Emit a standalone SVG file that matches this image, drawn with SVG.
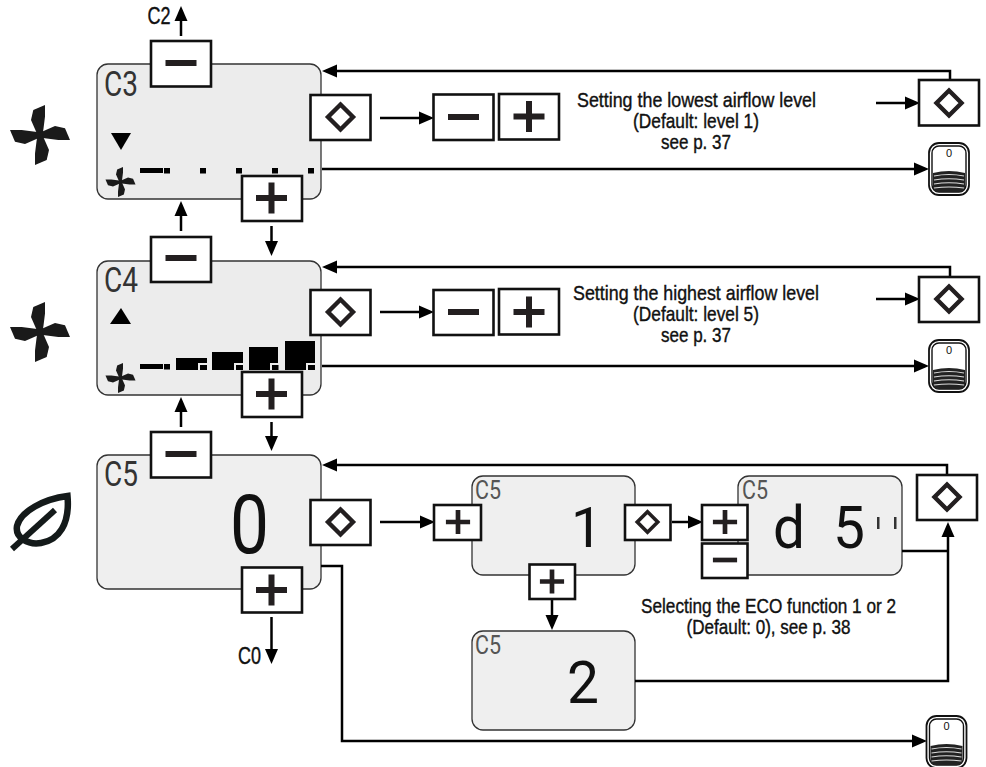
<svg xmlns="http://www.w3.org/2000/svg" xmlns:xlink="http://www.w3.org/1999/xlink" width="986" height="767" viewBox="0 0 986 767">
<style>
.lcd{fill:#ececec;stroke:#333;stroke-width:1.3}
.lcd2{fill:#efefef;stroke:#333;stroke-width:1.3}
.btn{fill:#fff;stroke:#111;stroke-width:2.6}
.wire{fill:none;stroke:#000;stroke-width:2.5;marker-end:url(#arr)}
.wire0{fill:none;stroke:#000;stroke-width:2.5}
.cap{font-family:"Liberation Sans",Arial,sans-serif;font-size:21px;fill:#111;stroke:#111;stroke-width:.4;text-anchor:start}
.tag{font-family:"Liberation Sans",Arial,sans-serif;font-size:23px;fill:#111;stroke:#111;stroke-width:.4}
.seg{font-family:"Roboto","Liberation Sans",sans-serif;font-weight:400;fill:#111}
.c{font-family:"Roboto","Liberation Sans",sans-serif;font-weight:400;font-size:35px;fill:#333}
.cs{font-family:"Roboto","Liberation Sans",sans-serif;font-weight:400;font-size:26px;fill:#555}
.k{fill:#000}
</style>
<defs>
<marker id="arr" markerUnits="userSpaceOnUse" markerWidth="16" markerHeight="14" refX="11" refY="7" orient="auto">
<path d="M0 .5L15 7L0 13.5Z" fill="#000"/>
</marker>
<g id="minus"><rect x="-15.5" y="-3" width="31" height="6" fill="#231f20"/></g>
<g id="plus"><path d="M-15.5-3H-3V-15.5H3V-3H15.5V3H3V15.5H-3V3H-15.5Z" fill="#231f20"/></g>
<g id="dia"><path d="M0-12.5L12.5 0L0 12.5L-12.5 0Z" fill="none" stroke="#231f20" stroke-width="4.4"/></g>
<g id="blade"><path d="M-6.700-25L5-30L5-18.300L2.500 1L-2 1L-9-15Z" fill="#1a1a1a"/></g>
<g id="fan"><use href="#blade"/><use href="#blade" transform="rotate(90)"/><use href="#blade" transform="rotate(180)"/><use href="#blade" transform="rotate(270)"/></g>
<g id="remote">
<rect x="0" y="0" width="40" height="52" rx="10" fill="#fff" stroke="#111" stroke-width="1.8"/>
<rect x="3" y="3" width="34" height="46" rx="7" fill="#fff" stroke="#111" stroke-width="1.4"/>
<path d="M4 30Q20 26 36 30V44Q36 49 31 49H9Q4 49 4 44Z" fill="#222"/>
<path d="M5 33Q20 30 35 33M5 37Q20 34.500 35 37M5 41Q20 38.500 35 41M5 45Q20 43 35 45" fill="none" stroke="#ddd" stroke-width="1.2"/>
<text x="20" y="14" text-anchor="middle" font-family="Liberation Sans,sans-serif" font-size="11" fill="#111">0</text>
</g>
</defs>
<rect width="986" height="767" fill="#fff"/>

<g id="fan-icon-1"><use href="#fan" transform="translate(40 135)"/></g>
<g id="fan-icon-2"><use href="#fan" transform="translate(40 332)"/></g>
<g id="leaf-icon">
<path d="M67.500 496C44 499 21 511 17 526C15 538 28 545 41 543C59 540 70 524 67.500 496Z" fill="none" stroke="#141a1a" stroke-width="6.500"/>
<path d="M12 549L55 510" fill="none" stroke="#141a1a" stroke-width="6"/>
</g>

<g id="panel-c3">
<rect class="lcd" x="97" y="64" width="224" height="135" rx="11"/>
<text class="c" x="104" y="95.500" textLength="34" lengthAdjust="spacingAndGlyphs">C3</text>
<path class="k" d="M111 133H131L121 150Z"/>
<use href="#fan" transform="translate(120.500 182) scale(.5)"/>
<rect class="k" x="140" y="168" width="23" height="5"/><rect class="k" x="164" y="168" width="6" height="5.500"/>
<rect class="k" x="200" y="168" width="6" height="5.500"/><rect class="k" x="236" y="168" width="6" height="5.500"/><rect class="k" x="272" y="168" width="6" height="5.500"/><rect class="k" x="308" y="168" width="6" height="5.500"/>
</g>
<g id="panel-c4">
<rect class="lcd" x="97" y="261" width="224" height="134" rx="11"/>
<text class="c" x="104" y="292" textLength="34" lengthAdjust="spacingAndGlyphs">C4</text>
<path class="k" d="M121 308L131 324H110Z"/>
<use href="#fan" transform="translate(120.500 378) scale(.5)"/>
<rect class="k" x="140" y="364" width="23" height="5"/><rect class="k" x="164" y="364" width="6" height="5.500"/>
<path class="k" d="M176 358H207V363H198V370H176Z"/><rect class="k" x="200" y="365" width="7" height="5"/>
<path class="k" d="M212 352H243V363H234V370H212Z"/><rect class="k" x="236" y="365" width="7" height="5"/>
<path class="k" d="M249 347H278V363H270V370H249Z"/><rect class="k" x="272" y="365" width="6.500" height="5"/>
<path class="k" d="M285 341H315V363H306V370H285Z"/><rect class="k" x="308" y="365" width="7" height="5"/>
</g>
<g id="panel-c5">
<rect class="lcd2" x="97" y="455" width="224" height="134" rx="11"/>
<text class="c" x="104" y="486" textLength="34" lengthAdjust="spacingAndGlyphs">C5</text>
<text class="seg" x="230" y="553" font-size="82" textLength="39" lengthAdjust="spacingAndGlyphs">0</text>
</g>
<g id="panel-c5-1">
<rect class="lcd2" x="472" y="476" width="163" height="99" rx="11"/>
<text class="cs" x="475" y="499" textLength="26" lengthAdjust="spacingAndGlyphs">C5</text>
<text class="seg" x="571" y="547" font-size="56">1</text>
</g>
<g id="panel-c5-d5">
<rect class="lcd2" x="738" y="476" width="164" height="99" rx="11"/>
<text class="cs" x="742" y="499" textLength="26" lengthAdjust="spacingAndGlyphs">C5</text>
<text class="seg" x="773" y="548" font-size="60" textLength="32" lengthAdjust="spacingAndGlyphs">d</text>
<text class="seg" x="833" y="548" font-size="60" textLength="32" lengthAdjust="spacingAndGlyphs">5</text>
<rect class="k" x="877" y="517" width="2.500" height="12" style="fill:#333"/><rect class="k" x="894" y="517" width="2.500" height="12" style="fill:#333"/>
</g>
<g id="panel-c5-2">
<rect class="lcd2" x="472" y="631" width="163" height="99" rx="11"/>
<text class="cs" x="475" y="654" textLength="26" lengthAdjust="spacingAndGlyphs">C5</text>
<text class="seg" x="567" y="703" font-size="60" textLength="32" lengthAdjust="spacingAndGlyphs">2</text>
</g>

<g id="connectors">
<path class="wire" d="M181 36V10"/>
<path class="wire" d="M181 231V205"/>
<path class="wire" d="M271.500 226V252"/>
<path class="wire" d="M380 118H430"/>
<path class="wire" d="M950 80V71H326"/>
<path class="wire" d="M876 103H916"/>
<path class="wire" d="M322 169H925"/>
<path class="wire" d="M181 427V401"/>
<path class="wire" d="M271.500 422V447"/>
<path class="wire" d="M380 312H430"/>
<path class="wire" d="M950 277V267H326"/>
<path class="wire" d="M876 299H916"/>
<path class="wire" d="M322 366H925"/>
<path class="wire" d="M271.500 617V660"/>
<path class="wire" d="M380 522H431"/>
<path class="wire" d="M672 522H699"/>
<path class="wire" d="M552 599V626"/>
<path class="wire" d="M947 475V465H326"/>
<path class="wire" d="M635 681H948V526"/>
<path class="wire0" d="M902 551H948"/>
<path class="wire" d="M321 566H342V741H923"/>
</g>

<g id="btn-c3-minus"><rect class="btn" x="151" y="41" width="60" height="45.500"/><use href="#minus" x="181" y="63"/></g>
<g id="btn-c3-plus"><rect class="btn" x="242" y="176" width="60" height="45"/><use href="#plus" x="271.500" y="198"/></g>
<g id="btn-c3-set"><rect class="btn" x="310.500" y="95" width="60" height="45"/><use href="#dia" x="340.500" y="117"/></g>
<g id="btn-c3-m2"><rect class="btn" x="433.500" y="94.500" width="60" height="45.500"/><use href="#minus" x="463.500" y="117"/></g>
<g id="btn-c3-p2"><rect class="btn" x="499" y="94" width="60" height="45.500"/><use href="#plus" x="529" y="116.500"/></g>
<g id="btn-c3-right"><rect class="btn" x="919" y="80" width="60" height="45.500"/><use href="#dia" x="949" y="103"/></g>
<g id="remote-1"><use href="#remote" x="929" y="143"/></g>

<g id="btn-c4-minus"><rect class="btn" x="151" y="237" width="60" height="45"/><use href="#minus" x="181" y="258"/></g>
<g id="btn-c4-plus"><rect class="btn" x="242" y="372" width="60" height="45"/><use href="#plus" x="271.500" y="394"/></g>
<g id="btn-c4-set"><rect class="btn" x="310.500" y="290" width="60" height="45"/><use href="#dia" x="340.500" y="312"/></g>
<g id="btn-c4-m2"><rect class="btn" x="433.500" y="290" width="60" height="45"/><use href="#minus" x="463.500" y="312"/></g>
<g id="btn-c4-p2"><rect class="btn" x="499" y="289" width="60" height="45.500"/><use href="#plus" x="529" y="312"/></g>
<g id="btn-c4-right"><rect class="btn" x="919" y="277" width="60" height="45"/><use href="#dia" x="949" y="299"/></g>
<g id="remote-2"><use href="#remote" x="929" y="340"/></g>

<g id="btn-c5-minus"><rect class="btn" x="151" y="432" width="60" height="45.500"/><use href="#minus" x="181" y="454"/></g>
<g id="btn-c5-plus"><rect class="btn" x="242" y="567.500" width="60" height="45"/><use href="#plus" x="271.500" y="590"/></g>
<g id="btn-c5-set"><rect class="btn" x="310.500" y="500" width="60" height="45"/><use href="#dia" x="340.500" y="522"/></g>
<g id="btn-c5-p1"><rect class="btn" x="434" y="505" width="47" height="35"/><use href="#plus" transform="translate(458 522) scale(.78)"/></g>
<g id="btn-c5-set2"><rect class="btn" x="625" y="505" width="45.500" height="35"/><use href="#dia" transform="translate(647.500 522) scale(.82)"/></g>
<g id="btn-c5-p2"><rect class="btn" x="702" y="505" width="45.500" height="35"/><use href="#plus" transform="translate(725 522) scale(.78)"/></g>
<g id="btn-c5-m2"><rect class="btn" x="702" y="543.500" width="45.500" height="34.500"/><use href="#minus" transform="translate(725 560) scale(.78)"/></g>
<g id="btn-c5-p3"><rect class="btn" x="529.500" y="564.500" width="45.500" height="34.500"/><use href="#plus" transform="translate(552 581.500) scale(.78)"/></g>
<g id="btn-c5-right"><rect class="btn" x="917" y="475" width="60" height="45"/><use href="#dia" x="947" y="497"/></g>
<g id="remote-3"><use href="#remote" x="926.500" y="716"/></g>

<g id="labels">
<text class="tag" x="147.500" y="24" textLength="23" lengthAdjust="spacingAndGlyphs">C2</text>
<text class="tag" x="238" y="664" textLength="23" lengthAdjust="spacingAndGlyphs">C0</text>
<text class="cap" x="577" y="107" textLength="239" lengthAdjust="spacingAndGlyphs">Setting the lowest airflow level</text>
<text class="cap" x="633" y="128" textLength="126" lengthAdjust="spacingAndGlyphs">(Default: level 1)</text>
<text class="cap" x="661" y="149" textLength="70" lengthAdjust="spacingAndGlyphs">see p. 37</text>
<text class="cap" x="573" y="300" textLength="246" lengthAdjust="spacingAndGlyphs">Setting the highest airflow level</text>
<text class="cap" x="633" y="321" textLength="126" lengthAdjust="spacingAndGlyphs">(Default: level 5)</text>
<text class="cap" x="661" y="342" textLength="70" lengthAdjust="spacingAndGlyphs">see p. 37</text>
<text class="cap" x="641" y="612.500" textLength="255" lengthAdjust="spacingAndGlyphs">Selecting the ECO function 1 or 2</text>
<text class="cap" x="686.500" y="634" textLength="164" lengthAdjust="spacingAndGlyphs">(Default: 0), see p. 38</text>
</g>
</svg>
